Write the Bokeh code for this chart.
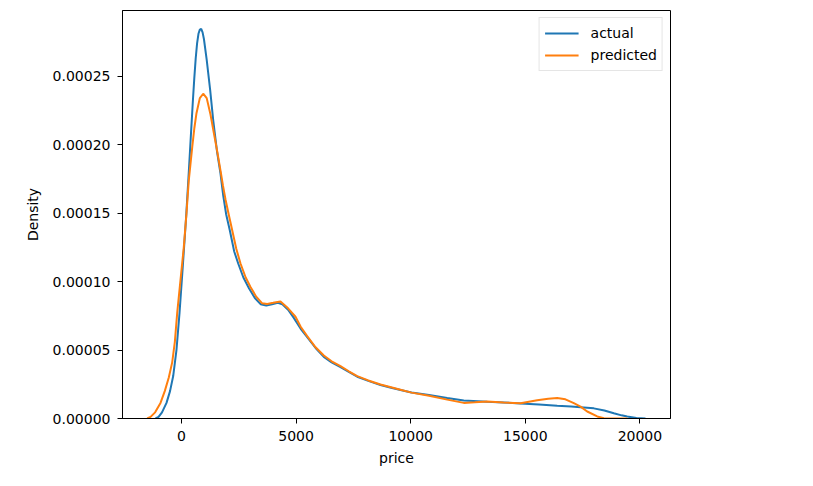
from bokeh.plotting import figure
from bokeh.models import Range1d, FixedTicker, PrintfTickFormatter, Legend, LegendItem
from bokeh.embed import file_html
from bokeh.resources import INLINE

# ---- data (KDE of price) ----
actual_x = [-1134, -1000, -850, -654, -500, -362, -220, -87, 60, 205, 318, 410, 500, 560,
            620, 680, 740, 800, 860, 920, 980, 1100, 1250, 1383, 1550, 1700, 1819, 1950,
            2107, 2300, 2474, 2700, 2950, 3200, 3450, 3700, 3950, 4200, 4400, 4650, 4900,
            5200, 5484, 5850, 6209, 6550, 6937, 7300, 7666, 8150, 8682, 9100, 9555, 10035,
            10800, 11593, 12317, 13338, 14050, 14791, 15600, 16392, 17000, 17409, 17989,
            18450, 18862, 19200, 19446, 19850, 20244]
actual_y = [0.0, 1.2e-6, 4.5e-6, 1.14e-5, 2.0e-5, 3.1e-5, 5.0e-5, 7.7e-5, 1.12e-4, 1.48e-4,
            1.80e-4, 2.07e-4, 2.33e-4, 2.49e-4, 2.63e-4, 2.74e-4, 2.81e-4, 2.84e-4, 2.845e-4,
            2.82e-4, 2.77e-4, 2.62e-4, 2.40e-4, 2.18e-4, 1.95e-4, 1.79e-4, 1.63e-4, 1.49e-4,
            1.375e-4, 1.22e-4, 1.132e-4, 1.03e-4, 9.5e-5, 8.8e-5, 8.35e-5, 8.25e-5, 8.35e-5,
            8.45e-5, 8.35e-5, 7.95e-5, 7.35e-5, 6.55e-5, 5.95e-5, 5.15e-5, 4.5e-5, 4.1e-5,
            3.75e-5, 3.4e-5, 3.05e-5, 2.75e-5, 2.45e-5, 2.27e-5, 2.08e-5, 1.9e-5, 1.72e-5,
            1.5e-5, 1.32e-5, 1.22e-5, 1.17e-5, 1.1e-5, 1.02e-5, 9.3e-6, 8.8e-6, 8.3e-6,
            7.4e-6, 5.8e-6, 3.8e-6, 2.3e-6, 1.4e-6, 3e-7, 0.0]

predicted_x = [-1497, -1350, -1150, -916, -730, -554, -406, -290, -188, -44, 100, 218, 318,
               467, 560, 654, 800, 947, 1100, 1265, 1440, 1570, 1702, 1810, 1920, 2060, 2212,
               2390, 2574, 2800, 3010, 3260, 3521, 3739, 4000, 4319, 4650, 4974, 5200, 5484,
               5850, 6209, 6550, 6937, 7300, 7666, 8150, 8682, 9100, 9555, 10035, 10800,
               11593, 12317, 12800, 13338, 14050, 14791, 15519, 16000, 16392, 16750, 17117,
               17409, 17701, 18138, 18426, 19000, 19446]
predicted_y = [0.0, 1.2e-6, 4.5e-6, 1.14e-5, 2.0e-5, 3.0e-5, 4.1e-5, 5.6e-5, 7.7e-5, 1.01e-4,
               1.25e-4, 1.50e-4, 1.74e-4, 1.98e-4, 2.12e-4, 2.23e-4, 2.34e-4, 2.372e-4,
               2.34e-4, 2.22e-4, 2.06e-4, 1.94e-4, 1.81e-4, 1.70e-4, 1.60e-4, 1.49e-4,
               1.375e-4, 1.24e-4, 1.132e-4, 1.03e-4, 9.6e-5, 8.9e-5, 8.41e-5, 8.37e-5,
               8.45e-5, 8.55e-5, 8.05e-5, 7.43e-5, 6.7e-5, 6.02e-5, 5.2e-5, 4.6e-5, 4.18e-5,
               3.82e-5, 3.45e-5, 3.1e-5, 2.78e-5, 2.48e-5, 2.3e-5, 2.1e-5, 1.89e-5, 1.66e-5,
               1.38e-5, 1.14e-5, 1.18e-5, 1.24e-5, 1.16e-5, 1.12e-5, 1.34e-5, 1.45e-5,
               1.49e-5, 1.4e-5, 1.12e-5, 8.7e-6, 5.1e-6, 1.5e-6, 2e-7, 0.0, 0.0]

x_ticks = [0, 5000, 10000, 15000, 20000]
y_ticks = [0.0, 0.00005, 0.00010, 0.00015, 0.00020, 0.00025]
series_labels = ["actual", "predicted"]
x_label = "price"
y_label = "Density"

FONT = "DejaVu Sans"
FS = "14px"

p = figure(width=805, height=478, output_backend="svg", toolbar_location=None,
           x_range=Range1d(-2574, 21335), y_range=Range1d(0, 0.000298),
           min_border_left=122, min_border_top=10, min_border_right=135,
           min_border_bottom=60)
p.background_fill_color = "white"
p.border_fill_color = "white"
p.grid.visible = False
p.outline_line_color = "black"
p.outline_line_width = 1

r1 = p.line(actual_x, actual_y, line_color="#1f77b4", line_width=2)
r2 = p.line(predicted_x, predicted_y, line_color="#ff7f0e", line_width=2)

for ax in (p.xaxis[0], p.yaxis[0]):
    ax.major_label_text_font = FONT
    ax.major_label_text_font_size = FS
    ax.major_label_text_color = "black"
    ax.axis_label_text_font = FONT
    ax.axis_label_text_font_size = FS
    ax.axis_label_text_font_style = "normal"
    ax.axis_label_text_color = "black"
    ax.axis_line_color = "black"
    ax.major_tick_line_color = "black"
    ax.major_tick_out = 5
    ax.major_tick_in = 0
    ax.minor_tick_line_color = None
    ax.major_label_standoff = 7

p.xaxis[0].ticker = FixedTicker(ticks=x_ticks)
p.xaxis[0].formatter = PrintfTickFormatter(format="%d")
p.xaxis[0].axis_label = x_label
p.xaxis[0].axis_label_standoff = 6
p.yaxis[0].ticker = FixedTicker(ticks=y_ticks)
p.yaxis[0].formatter = PrintfTickFormatter(format="%.5f")
p.yaxis[0].axis_label = y_label
p.yaxis[0].axis_label_standoff = 9

legend = Legend(items=[LegendItem(label=series_labels[0], renderers=[r1]),
                       LegendItem(label=series_labels[1], renderers=[r2])],
                location="top_right", margin=7, padding=5, spacing=2,
                glyph_width=34, glyph_height=20, label_height=20, label_standoff=12,
                label_text_font=FONT, label_text_font_size=FS, label_text_color="black",
                border_line_color="#cccccc", border_line_width=1,
                background_fill_color="white", background_fill_alpha=0.8)
p.add_layout(legend)

open("out.html", "w").write(file_html(p, INLINE))
